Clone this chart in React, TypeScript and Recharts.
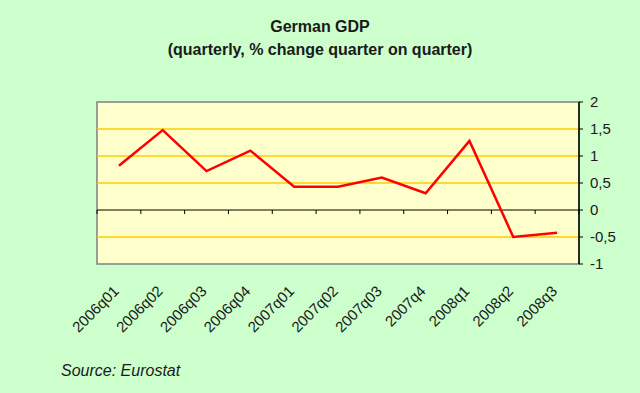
import {
  LineChart,
  Line,
  XAxis,
  YAxis,
  ReferenceArea,
  ReferenceLine,
} from "recharts";

const quarters = [
  "2006q01",
  "2006q02",
  "2006q03",
  "2006q04",
  "2007q01",
  "2007q02",
  "2007q03",
  "2007q4",
  "2008q1",
  "2008q2",
  "2008q3",
];
const gdpChange = [0.82, 1.48, 0.72, 1.1, 0.43, 0.43, 0.6, 0.31, 1.28, -0.5, -0.42];
const yTicks = [-1, -0.5, 0, 0.5, 1, 1.5, 2];
const gridValues = [-0.5, 0.5, 1, 1.5];

const data = quarters.map((q, i) => ({ quarter: q, value: gdpChange[i] }));

const FONT = '"Liberation Sans", Arial, sans-serif';

function ZeroLine(props: any) {
  const { x1, x2, y1 } = props;
  const n = quarters.length;
  const step = (x2 - x1) / n;
  const marks = [];
  for (let i = 0; i <= n; i++) {
    const x = x1 + i * step;
    marks.push(<line key={i} x1={x} y1={y1} x2={x} y2={y1 + 4} stroke="#000" />);
  }
  return (
    <g>
      <line x1={x1} y1={y1} x2={x2} y2={y1} stroke="#000" strokeWidth={1.2} />
      {marks}
    </g>
  );
}

function QuarterTick(props: any) {
  const { x, y, payload } = props;
  const ax = x + 1;
  const ay = y + 28;
  return (
    <text
      x={ax}
      y={ay}
      transform={`rotate(-45 ${ax} ${ay})`}
      textAnchor="end"
      fontSize={15}
      fontFamily={FONT}
      fill="#1a1a1a"
    >
      {payload.value}
    </text>
  );
}

export default function App() {
  return (
    <div
      style={{
        position: "fixed",
        left: 0,
        top: 0,
        width: 640,
        height: 393,
        background: "#CCFFCC",
        fontFamily: FONT,
        color: "#1a1a1a",
      }}
    >
      <div
        style={{
          position: "absolute",
          top: 15,
          width: 640,
          textAlign: "center",
          fontWeight: "bold",
          fontSize: 16,
          lineHeight: "23px",
        }}
      >
        German GDP
        <br />
        (quarterly, % change quarter on quarter)
      </div>
      <LineChart
        width={640}
        height={393}
        data={data}
        margin={{ top: 102, right: 6, bottom: 49, left: 97 }}
      >
        <ReferenceArea
          y1={-1}
          y2={2}
          fill="#FFFFCC"
          fillOpacity={1}
          stroke="#808080"
          strokeWidth={1.5}
        />
        {gridValues.map((v) => (
          <ReferenceLine key={v} y={v} stroke="#FFCC00" strokeWidth={1.5} />
        ))}
        <ReferenceLine y={0} shape={<ZeroLine />} />
        <XAxis
          dataKey="quarter"
          scale="band"
          height={80}
          axisLine={false}
          tickLine={false}
          tickSize={0}
          tickMargin={0}
          interval={0}
          tick={<QuarterTick />}
        />
        <YAxis
          orientation="right"
          width={55}
          domain={[-1, 2]}
          ticks={yTicks}
          interval={0}
          axisLine={{ stroke: "#000", strokeWidth: 1.5 }}
          tickLine={{ stroke: "#000" }}
          tickSize={4}
          tickMargin={7}
          tickFormatter={(v: number) => String(v).replace(".", ",")}
          tick={{ fontSize: 15, fontFamily: FONT, fill: "#1a1a1a", textAnchor: "start" }}
        />
        <Line
          type="linear"
          dataKey="value"
          stroke="#FF0000"
          strokeWidth={2.5}
          dot={false}
          isAnimationActive={false}
        />
      </LineChart>
      <div
        style={{
          position: "absolute",
          left: 61,
          top: 361,
          fontStyle: "italic",
          fontSize: 16,
          lineHeight: "20px",
        }}
      >
        Source: Eurostat
      </div>
    </div>
  );
}
